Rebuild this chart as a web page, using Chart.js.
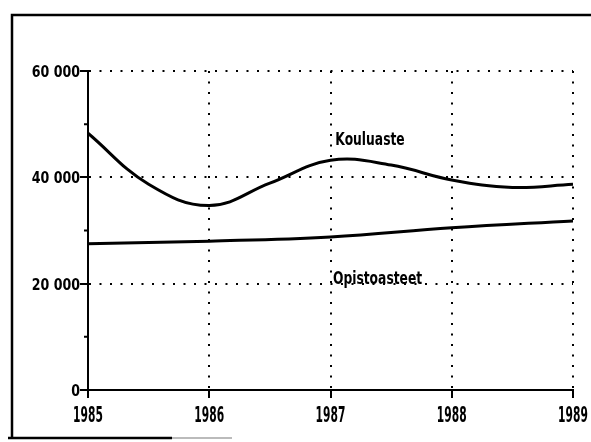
<!DOCTYPE html>
<html lang="fi">
<head>
    <meta charset="UTF-8">
    <title>Kouluaste ja opistoasteet 1985-1989</title>
    <script src="https://cdn.jsdelivr.net/npm/chart.js"></script>
    <style>
        html, body {
            margin: 0;
            padding: 0;
            background: #fff;
        }
        #chart-container {
            position: relative;
            width: 591px;
            height: 442px;
        }
    </style>
</head>
<body>
    <div id="chart-container">
        <canvas id="chart" width="591" height="442"></canvas>
    </div>

    <script>
        // Kouluaste, luettu kuvasta puolen vuoden välein
        const kouluYears = [1985, 1985.5, 1986, 1986.5, 1987, 1987.5, 1988, 1988.5, 1989];
        const kouluValues = [48300, 38700, 34700, 38900, 43200, 42300, 39500, 38100, 38700];

        // Opistoasteet
        const opistoYears = [1985, 1986, 1987, 1988, 1989];
        const opistoValues = [27500, 28000, 28800, 30500, 31800];

        // akselit
        const yearTicks = [1985, 1986, 1987, 1988, 1989];
        const yMajor = [0, 20000, 40000, 60000];
        const yMinor = [10000, 30000, 50000];

        // sarjojen nimet (vuosi, arvo = tekstin perusviiva)
        const seriesLabels = [
            { text: 'Kouluaste', x: 1987.04, y: 46100 },
            { text: 'Opistoasteet', x: 1987.02, y: 19900 }
        ];

        const FONT = "'DejaVu Sans', sans-serif";

        function toPoints(xs, ys) {
            return xs.map((x, i) => ({ x: x, y: ys[i] }));
        }

        function fmtThousands(v) {
            return String(v).replace(/\B(?=(\d{3})+(?!\d))/g, ' ');
        }

        // kapea teksti (alkuperäinen fontti on hyvin kapea)
        function narrowText(ctx, text, x, y, size, sx, align) {
            ctx.save();
            ctx.font = 'condensed bold ' + size + 'px ' + FONT;
            ctx.textAlign = align;
            ctx.textBaseline = 'alphabetic';
            ctx.translate(x, y);
            ctx.scale(sx, 1);
            ctx.fillText(text, 0, 0);
            ctx.restore();
        }

        // kehys, pienet tikit, akselien tekstit ja sarjojen nimet
        const extras = {
            id: 'extras',
            afterDraw(chart) {
                const ctx = chart.ctx;
                const xs = chart.scales.x;
                const ys = chart.scales.y;
                ctx.save();

                // ulkokehys
                ctx.strokeStyle = '#000';
                ctx.lineWidth = 2.5;
                ctx.beginPath();
                ctx.moveTo(12, 438);
                ctx.lineTo(12, 15);
                ctx.lineTo(591, 15);
                ctx.moveTo(8, 438);
                ctx.lineTo(172, 438);
                ctx.stroke();
                ctx.strokeStyle = '#bbb';
                ctx.lineWidth = 2;
                ctx.beginPath();
                ctx.moveTo(172, 438);
                ctx.lineTo(232, 438);
                ctx.stroke();

                // pienet tikit
                ctx.strokeStyle = '#000';
                ctx.lineWidth = 2;
                ctx.beginPath();
                yMinor.forEach(v => {
                    const py = ys.getPixelForValue(v);
                    ctx.moveTo(xs.left - 4, py);
                    ctx.lineTo(xs.left, py);
                });
                ctx.stroke();
                ctx.fillStyle = '#000';

                // y-akselin luvut
                ys.ticks.forEach(t => {
                    narrowText(ctx, fmtThousands(t.value), xs.left - 8, ys.getPixelForValue(t.value) + 6, 16.5, 0.85, 'right');
                });

                // vuodet
                xs.ticks.forEach(t => {
                    narrowText(ctx, String(t.value), xs.getPixelForValue(t.value), ys.bottom + 32, 20.5, 0.58, 'center');
                });

                // sarjojen nimet
                seriesLabels.forEach(l => {
                    narrowText(ctx, l.text, xs.getPixelForValue(l.x), ys.getPixelForValue(l.y), 18, 0.76, 'left');
                });
                ctx.restore();
            }
        };

        const data = {
            datasets: [
                {
                    label: 'Kouluaste',
                    data: toPoints(kouluYears, kouluValues),
                    borderColor: '#000',
                    borderWidth: 3,
                    pointRadius: 0,
                    tension: 0.4,
                    fill: false
                },
                {
                    label: 'Opistoasteet',
                    data: toPoints(opistoYears, opistoValues),
                    borderColor: '#000',
                    borderWidth: 3,
                    pointRadius: 0,
                    tension: 0.4,
                    fill: false
                }
            ]
        };

        const config = {
            type: 'line',
            data: data,
            options: {
                responsive: false,
                animation: false,
                layout: {
                    padding: { left: 0, top: 71, right: 18, bottom: 0 }
                },
                plugins: {
                    legend: { display: false },
                    tooltip: { enabled: false }
                },
                scales: {
                    x: {
                        type: 'linear',
                        min: 1985,
                        max: 1989,
                        afterBuildTicks: (scale) => {
                            scale.ticks = yearTicks.map(v => ({ value: v }));
                        },
                        afterFit: (scale) => { scale.height = 52; },
                        ticks: { display: false },
                        grid: {
                            lineWidth: 2,
                            tickLength: 8,
                            tickWidth: 2,
                            tickColor: '#000',
                            color: (c) => (c.tick && c.tick.value !== 1985) ? '#000' : 'rgba(0,0,0,0)'
                        },
                        border: { display: true, color: '#000', width: 2, dash: [2, 8.5] }
                    },
                    y: {
                        min: 0,
                        max: 60000,
                        afterBuildTicks: (scale) => {
                            scale.ticks = yMajor.map(v => ({ value: v }));
                        },
                        afterFit: (scale) => { scale.width = 88; },
                        ticks: { display: false },
                        grid: {
                            lineWidth: 2,
                            tickLength: 8,
                            tickWidth: 2,
                            tickColor: '#000',
                            color: (c) => (c.tick && c.tick.value !== 0) ? '#000' : 'rgba(0,0,0,0)'
                        },
                        border: { display: true, color: '#000', width: 2, dash: [2, 8.5] }
                    }
                }
            },
            plugins: [extras]
        };

        const ctx = document.getElementById('chart').getContext('2d');
        const chart = new Chart(ctx, config);
    </script>
</body>
</html>
